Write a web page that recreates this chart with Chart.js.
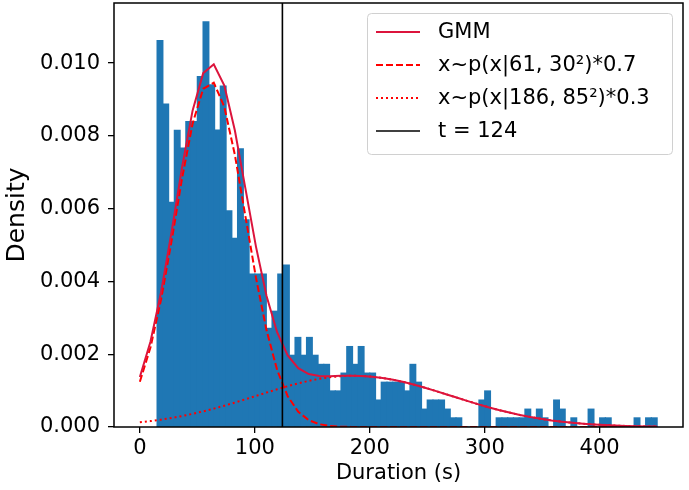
<!DOCTYPE html>
<html>
<head>
<meta charset="utf-8">
<script src="https://cdn.jsdelivr.net/npm/chart.js@4.4.1/dist/chart.umd.min.js"></script>
<style>
  body { margin: 0; background: #fff; }
  #wrap { width: 689px; height: 490px; }
</style>
</head>
<body>
<div id="wrap"><canvas id="myChart" width="689" height="490"></canvas></div>
<script>
// histogram: bins of 5 s starting at 15 s, density per bin
const binStart = 15;
const binWidth = 5;
const density = [
  0.01062, 0.00887, 0.00617, 0.00815, 0.00766, 0.00839, 0.00839, 0.00963, 0.01113, 0.00940,
  0.00816, 0.00937, 0.00594, 0.00518, 0.00764, 0.00569, 0.00420, 0.00420, 0.00420, 0.00271,
  0.00318, 0.00420, 0.00445, 0.00197, 0.00246, 0.00197, 0.00246, 0.00197, 0.00172, 0.00172,
  0.00099, 0.00099, 0.00148, 0.00221, 0.00172, 0.00221, 0.00148, 0.00148, 0.00074, 0.00123,
  0.00123, 0.00123, 0.00123, 0.00099, 0.00172, 0.00123, 0.00049, 0.00074, 0.00074, 0.00074,
  0.00049, 0.00025, 0.00025, 0, 0, 0, 0.00074, 0.00099, 0, 0.00025,
  0.00025, 0.00025, 0.00025, 0.00025, 0.00049, 0.00025, 0.00049, 0.00025, 0, 0.00074,
  0.00049, 0, 0.00025, 0, 0, 0.00049, 0, 0.00025, 0.00025, 0,
  0, 0, 0, 0.00025, 0, 0.00025, 0.00025
];

// sample points of the fitted curves
const curveX = [
  0, 9.2, 18.4, 27.6, 36.7, 45.9, 55.1, 64.3, 73.5, 82.7,
  91.8, 101.0, 110.2, 119.4, 128.6, 137.8, 146.9, 156.1, 165.3, 174.5,
  183.7, 192.9, 202.0, 211.2, 220.4, 229.6, 238.8, 248.0, 257.1, 266.3,
  275.5, 284.7, 293.9, 303.1, 312.2, 321.4, 330.6, 339.8, 349.0, 358.2,
  367.3, 376.5, 385.7, 394.9, 404.1, 413.3, 422.4, 431.6, 440.8, 450
];
const gmm = [
  0.001373, 0.002344, 0.003696, 0.005361, 0.007134, 0.008700, 0.009723, 0.009965, 0.009382, 0.008141,
  0.006555, 0.004957, 0.003601, 0.002605, 0.001967, 0.001616, 0.001455, 0.001401, 0.001396, 0.001405,
  0.001411, 0.001404, 0.001383, 0.001347, 0.001297, 0.001235, 0.001161, 0.001080, 0.000992, 0.000901,
  0.000809, 0.000718, 0.000629, 0.000545, 0.000467, 0.000396, 0.000331, 0.000274, 0.000224, 0.000181,
  0.000145, 0.000114, 0.000089, 0.000069, 0.000052, 0.000040, 0.000029, 0.000022, 0.000016, 0.000011
];
const comp1 = [
  0.001244, 0.002182, 0.003495, 0.005113, 0.006833, 0.008338, 0.009293, 0.009460, 0.008796, 0.007469,
  0.005793, 0.004103, 0.002655, 0.001569, 0.000846, 0.000417, 0.000188, 0.000077, 0.000029, 0.000010,
  0.000003, 0.000001, 0, 0, 0, 0, 0, 0, 0, 0,
  0, 0, 0, 0, 0, 0, 0, 0, 0, 0,
  0, 0, 0, 0, 0, 0, 0, 0, 0, 0
];
const comp2 = [
  0.000129, 0.000162, 0.000201, 0.000248, 0.000301, 0.000362, 0.000430, 0.000505, 0.000586, 0.000672,
  0.000762, 0.000854, 0.000946, 0.001036, 0.001121, 0.001199, 0.001267, 0.001324, 0.001367, 0.001395,
  0.001408, 0.001403, 0.001383, 0.001347, 0.001297, 0.001235, 0.001161, 0.001080, 0.000992, 0.000901,
  0.000809, 0.000718, 0.000629, 0.000545, 0.000467, 0.000396, 0.000331, 0.000274, 0.000224, 0.000181,
  0.000145, 0.000114, 0.000089, 0.000069, 0.000052, 0.000040, 0.000029, 0.000022, 0.000016, 0.000011
];
const threshold = 124;

const xTicks = [0, 100, 200, 300, 400];
const yTicks = [0, 0.002, 0.004, 0.006, 0.008, 0.010];
const xRange = [-22.5, 472.5];
const yRange = [0, 0.01165];

const FONT = 'DejaVu Sans';

const toPoints = (ys) => ys.map((y, i) => ({ x: curveX[i], y }));

// axes box + legend drawn by hand, matplotlib style
const framePlugin = {
  id: 'frame',
  afterDatasetsDraw(chart) {
    const { ctx, chartArea: a } = chart;
    ctx.save();
    ctx.strokeStyle = '#000';
    ctx.lineWidth = 1.5;
    ctx.strokeRect(a.left, a.top, a.right - a.left, a.bottom - a.top);
    ctx.restore();
  },
  afterDraw(chart) {
    const { ctx } = chart;
    const items = chart.data.datasets.filter((d) => d.inLegend);
    ctx.save();
    ctx.beginPath();
    ctx.roundRect(367.5, 13.5, 305, 141, 4);
    ctx.fillStyle = 'rgba(255,255,255,0.8)';
    ctx.fill();
    ctx.strokeStyle = '#d0d0d0';
    ctx.lineWidth = 1;
    ctx.stroke();

    items.forEach((d, i) => {
      const y = 32 + i * 33;
      ctx.beginPath();
      ctx.setLineDash(d.borderDash || []);
      ctx.strokeStyle = d.borderColor;
      ctx.lineWidth = d.borderWidth;
      ctx.moveTo(376, y);
      ctx.lineTo(420, y);
      ctx.stroke();
      ctx.setLineDash([]);
      ctx.fillStyle = '#000';
      ctx.font = `21px "${FONT}"`;
      ctx.textBaseline = 'middle';
      ctx.fillText(d.label, 438, y + 1);
    });
    ctx.restore();
  },
};

const ctx = document.getElementById('myChart').getContext('2d');

new Chart(ctx, {
  type: 'bar',
  data: {
    datasets: [
      {
        type: 'line',
        label: 'GMM',
        inLegend: true,
        data: toPoints(gmm),
        borderColor: '#dc143c',
        borderWidth: 2,
        pointRadius: 0,
        tension: 0,
        order: 2,
      },
      {
        type: 'line',
        label: 'x~p(x|61, 30²)*0.7',
        inLegend: true,
        data: toPoints(comp1),
        borderColor: '#ff0000',
        borderWidth: 2,
        borderDash: [7, 3],
        pointRadius: 0,
        tension: 0,
        order: 3,
      },
      {
        type: 'line',
        label: 'x~p(x|186, 85²)*0.3',
        inLegend: true,
        data: toPoints(comp2),
        borderColor: '#ff0000',
        borderWidth: 2,
        borderDash: [2, 3],
        pointRadius: 0,
        tension: 0,
        order: 4,
      },
      {
        type: 'line',
        label: `t = ${threshold}`,
        inLegend: true,
        data: [{ x: threshold, y: yRange[0] }, { x: threshold, y: yRange[1] }],
        borderColor: '#000',
        borderWidth: 1.6,
        pointRadius: 0,
        order: 1,
      },
      {
        type: 'bar',
        label: 'Duration',
        data: density.map((y, i) => ({ x: binStart + binWidth * (i + 0.5), y })),
        backgroundColor: '#1f77b4',
        borderWidth: 0,
        barPercentage: 1,
        categoryPercentage: 1,
        inflateAmount: 0.6,
        order: 10,
      },
    ],
  },
  options: {
    responsive: false,
    animation: false,
    layout: { padding: { left: 0, right: 6, top: 3, bottom: 0 } },
    plugins: { legend: { display: false }, tooltip: { enabled: false } },
    scales: {
      x: {
        type: 'linear',
        min: xRange[0],
        max: xRange[1],
        offset: false,
        afterBuildTicks: (s) => { s.ticks = xTicks.map((value) => ({ value })); },
        afterFit: (s) => { s.height = 63; s.paddingLeft = 0; s.paddingRight = 0; },
        grid: { drawOnChartArea: false, drawTicks: true, tickLength: 6, color: '#000', lineWidth: 1.3, offset: false },
        border: { display: false },
        ticks: { color: '#000', font: { family: FONT, size: 21 }, padding: 3, maxRotation: 0 },
        title: { display: true, text: 'Duration (s)', color: '#000', font: { family: FONT, size: 21 }, padding: { top: 0, bottom: 4 } },
      },
      y: {
        type: 'linear',
        min: yRange[0],
        max: yRange[1],
        afterBuildTicks: (s) => { s.ticks = yTicks.map((value) => ({ value })); },
        afterFit: (s) => { s.width = 114; s.paddingTop = 0; s.paddingBottom = 0; },
        grid: { drawOnChartArea: false, drawTicks: true, tickLength: 6, color: '#000', lineWidth: 1.3 },
        border: { display: false },
        ticks: { color: '#000', font: { family: FONT, size: 21 }, padding: 8, callback: (v) => v.toFixed(3) },
        title: { display: true, text: 'Density', color: '#000', font: { family: FONT, size: 25 }, padding: { top: 2, bottom: 0 } },
      },
    },
  },
  plugins: [framePlugin],
});
</script>
</body>
</html>
